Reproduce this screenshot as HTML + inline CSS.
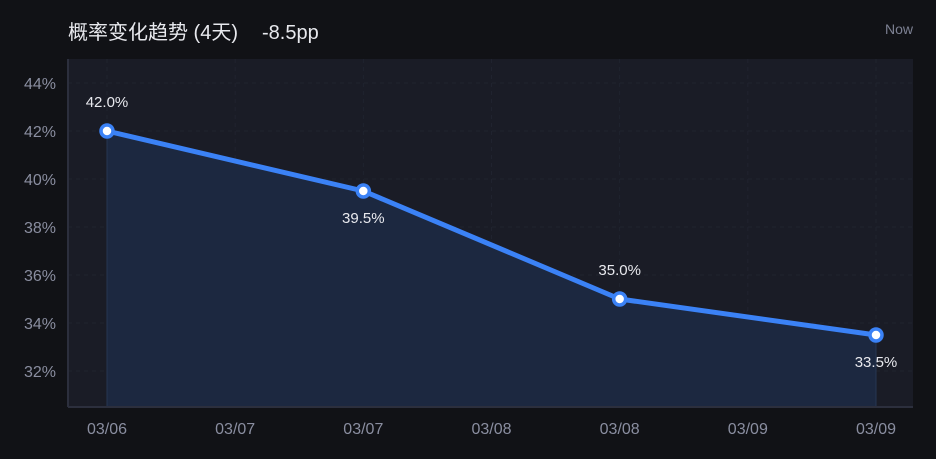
<!DOCTYPE html>
<html><head><meta charset="utf-8"><style>
html,body{margin:0;padding:0;background:#111216;}
svg{display:block;font-family:"Liberation Sans","Noto Sans CJK SC",sans-serif;}
</style></head><body>
<svg id="chart" width="936" height="459">
<rect width="936" height="459" fill="#111216"/>
<text x="68" y="39" font-size="20" fill="#e8e9ee">概率变化趋势 (4天)<tspan x="262">-8.5pp</tspan></text>
<text x="913" y="34" font-size="14" fill="#7d8193" text-anchor="end">Now</text>
<rect x="68" y="59" width="845" height="348" fill="#1a1c26"/>
<g id="grid"></g><g id="area"></g><g id="marks"></g><g id="axes"></g>
</svg>
<script>
const xTickLabels=["03/06","03/07","03/07","03/08","03/08","03/09","03/09"];
const pointIndex=[0,2,4,6];
const values=[42.0,39.5,35.0,33.5];
const valueLabels=["42.0%","39.5%","35.0%","33.5%"];
const yTicks=[32,34,36,38,40,42,44];
const labelAbove=[true,false,true,false];
const NS="http://www.w3.org/2000/svg";
const x0=107,x1=876,yTop=59,yBot=407,yMin=30.5,yMax=45;
const xs=i=>x0+(x1-x0)*i/(xTickLabels.length-1);
const ys=v=>yBot-(v-yMin)/(yMax-yMin)*(yBot-yTop);
function mk(tag,attrs,parent){const e=document.createElementNS(NS,tag);for(const k in attrs)e.setAttribute(k,attrs[k]);document.getElementById(parent).appendChild(e);return e;}
yTicks.forEach(t=>{
 const l=mk('line',{x1:68,x2:913,y1:ys(t),y2:ys(t),stroke:'#20232f','stroke-dasharray':'4,4'},'grid');
 
 
 const tx=mk('text',{x:56,y:ys(t)+6,'font-size':16,fill:'#8a8ea0','text-anchor':'end'},'axes');
 tx.textContent=t+'%';
 
 
});
xTickLabels.forEach((s,i)=>{
 const l=mk('line',{x1:xs(i),x2:xs(i),y1:yTop,y2:yBot,stroke:'#20232f','stroke-dasharray':'4,4'},'grid');
 
 
 const tx=mk('text',{x:xs(i),y:434,'font-size':16,fill:'#8a8ea0','text-anchor':'middle'},'axes');
 tx.textContent=s;
 
 
});
const ax=mk('line',{x1:68,x2:68,y1:yTop,y2:yBot,stroke:'#2c2f3d','stroke-width':2},'axes');


const bx=mk('line',{x1:68,x2:913,y1:yBot,y2:yBot,stroke:'#2c2f3d','stroke-width':2},'axes');


const pts=values.map((v,k)=>[xs(pointIndex[k]),ys(v)]);
const ap=mk('path',{d:'M'+pts[0][0]+','+yBot+' '+pts.map(p=>'L'+p[0]+','+p[1]).join(' ')+' L'+pts[pts.length-1][0]+','+yBot+'Z',fill:'#1c2840'},'area');


[0,pts.length-1].forEach(k=>{const e=mk('line',{x1:pts[k][0],x2:pts[k][0],y1:pts[k][1],y2:yBot,stroke:'#263652'},'area');
 
 });
const ln=mk('polyline',{points:pts.map(p=>p.join(',')).join(' '),fill:'none',stroke:'#3b82f6','stroke-width':5,'stroke-linejoin':'round'},'marks');


pts.forEach((p,k)=>{
 const c=mk('circle',{cx:p[0],cy:p[1],r:6,fill:'#fff',stroke:'#3b82f6','stroke-width':3.5},'marks');
 
 
 const t=mk('text',{x:p[0],y:labelAbove[k]?p[1]-24:p[1]+32,'font-size':15,fill:'#e8e9ee','text-anchor':'middle'},'marks');
 t.textContent=valueLabels[k];
 
 
});
</script>
</body></html>
